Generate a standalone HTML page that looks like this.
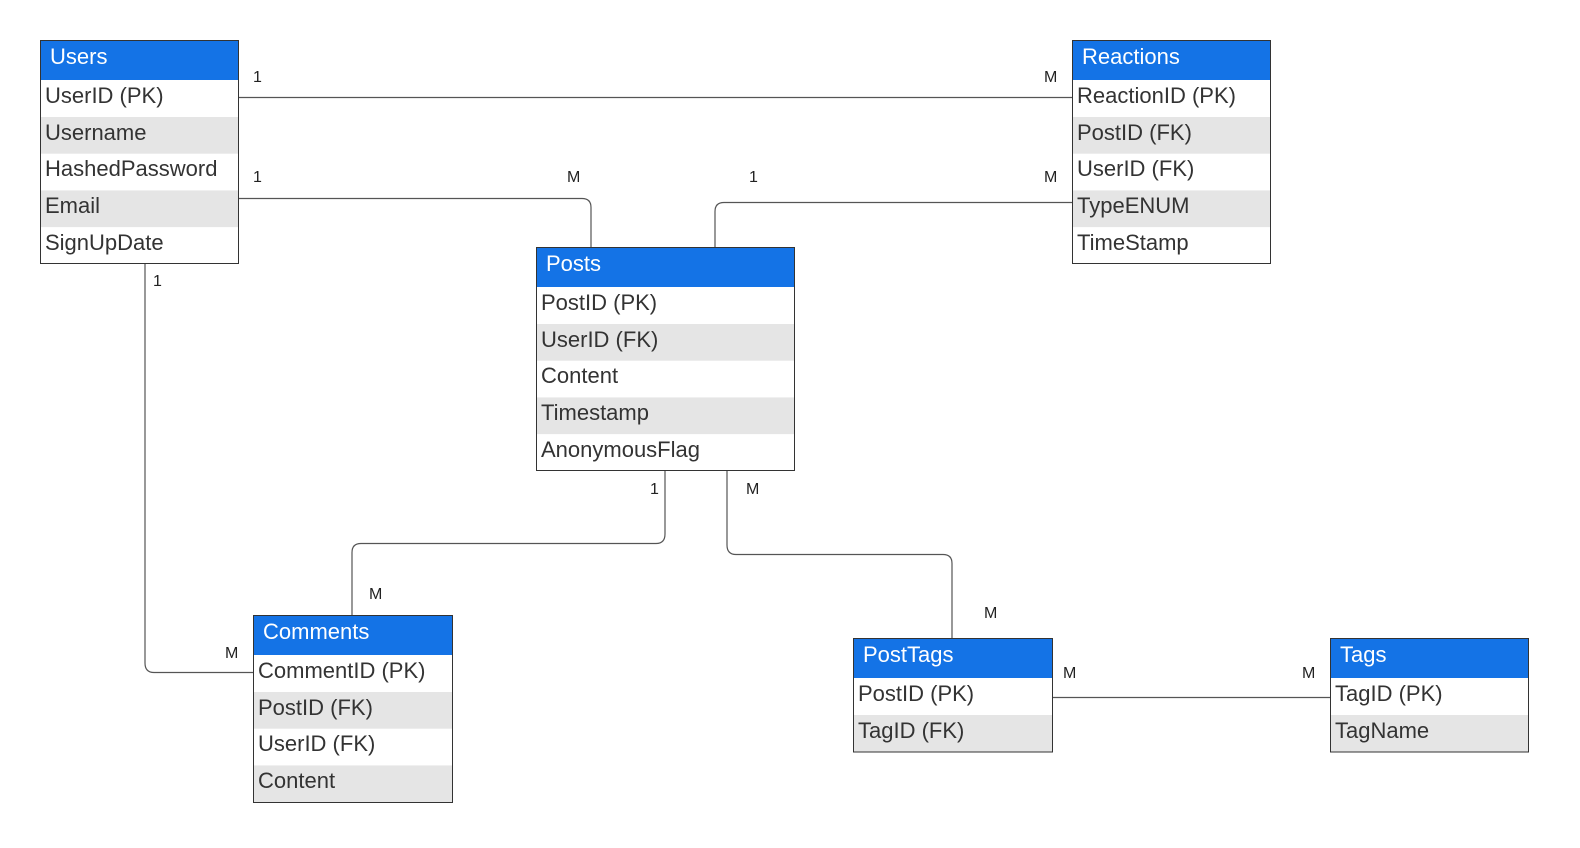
<!DOCTYPE html>
<html><head><meta charset="utf-8"><style>
html,body{margin:0;padding:0;background:#fff;overflow:hidden;width:1580px;height:848px;}
svg{display:block;font-family:"Liberation Sans",Arial,sans-serif;}
.h{fill:#fff;font-size:22px}
.r{fill:#333;font-size:22px}
.l{fill:#222;font-size:16px}
.c{fill:none;stroke:#555;stroke-width:1.2}
</style></head><body>
<svg width="1580" height="848" viewBox="0 0 1580 848">
<path class="c" d="M238 97.5H1072"/>
<path class="c" d="M238 198.5H582Q591 198.5 591 207.5V247"/>
<path class="c" d="M1072 202.5H724Q715 202.5 715 211.5V247"/>
<path class="c" d="M145 263V663Q145 672.5 154 672.5H253"/>
<path class="c" d="M665 471V534Q665 543.5 656 543.5H361Q352 543.5 352 552.5V615"/>
<path class="c" d="M727 471V545Q727 554.5 736 554.5H943Q952 554.5 952 563.5V638"/>
<path class="c" d="M1052 697.5H1330"/>
<g class="l">
<text x="253" y="82">1</text><text x="1044" y="82">M</text>
<text x="253" y="182">1</text><text x="567" y="182">M</text>
<text x="749" y="182">1</text><text x="1044" y="182">M</text>
<text x="153" y="286">1</text><text x="225" y="658">M</text>
<text x="650" y="494">1</text><text x="369" y="599">M</text>
<text x="746" y="494">M</text><text x="984" y="618">M</text>
<text x="1063" y="678">M</text><text x="1302" y="678">M</text>
</g>
<g transform="translate(40,40)">
<rect width="198" height="40" fill="#1473e6"/>
<rect y="77" width="198" height="36.7" fill="#e5e5e5"/><rect y="150.4" width="198" height="36.7" fill="#e5e5e5"/>
<rect x="0.5" y="0.5" width="198" height="223" fill="none" stroke="#333"/>
<text class="h" x="10" y="24">Users</text>
<text class="r" x="5" y="63">UserID (PK)</text><text class="r" x="5" y="100">Username</text>
<text class="r" x="5" y="136">HashedPassword</text><text class="r" x="5" y="173">Email</text>
<text class="r" x="5" y="210">SignUpDate</text>
</g>
<g transform="translate(1072,40)">
<rect width="198" height="40" fill="#1473e6"/>
<rect y="77" width="198" height="36.7" fill="#e5e5e5"/><rect y="150.4" width="198" height="36.7" fill="#e5e5e5"/>
<rect x="0.5" y="0.5" width="198" height="223" fill="none" stroke="#333"/>
<text class="h" x="10" y="24">Reactions</text>
<text class="r" x="5" y="63">ReactionID (PK)</text><text class="r" x="5" y="100">PostID (FK)</text>
<text class="r" x="5" y="136">UserID (FK)</text><text class="r" x="5" y="173">TypeENUM</text>
<text class="r" x="5" y="210">TimeStamp</text>
</g>
<g transform="translate(536,247)">
<rect width="258" height="40" fill="#1473e6"/>
<rect y="77" width="258" height="36.7" fill="#e5e5e5"/><rect y="150.4" width="258" height="36.7" fill="#e5e5e5"/>
<rect x="0.5" y="0.5" width="258" height="223" fill="none" stroke="#333"/>
<text class="h" x="10" y="24">Posts</text>
<text class="r" x="5" y="63">PostID (PK)</text><text class="r" x="5" y="100">UserID (FK)</text>
<text class="r" x="5" y="136">Content</text><text class="r" x="5" y="173">Timestamp</text>
<text class="r" x="5" y="210">AnonymousFlag</text>
</g>
<g transform="translate(253,615)">
<rect width="199" height="40" fill="#1473e6"/>
<rect y="77" width="199" height="36.7" fill="#e5e5e5"/><rect y="150.4" width="199" height="36.7" fill="#e5e5e5"/>
<rect x="0.5" y="0.5" width="199" height="187" fill="none" stroke="#333"/>
<text class="h" x="10" y="24">Comments</text>
<text class="r" x="5" y="63">CommentID (PK)</text><text class="r" x="5" y="100">PostID (FK)</text>
<text class="r" x="5" y="136">UserID (FK)</text><text class="r" x="5" y="173">Content</text>
</g>
<g transform="translate(853,638)">
<rect width="199" height="40" fill="#1473e6"/>
<rect y="77" width="199" height="36.7" fill="#e5e5e5"/>
<rect x="0.5" y="0.5" width="199" height="113.5" fill="none" stroke="#333"/>
<text class="h" x="10" y="24">PostTags</text>
<text class="r" x="5" y="63">PostID (PK)</text><text class="r" x="5" y="100">TagID (FK)</text>
</g>
<g transform="translate(1330,638)">
<rect width="198" height="40" fill="#1473e6"/>
<rect y="77" width="198" height="36.7" fill="#e5e5e5"/>
<rect x="0.5" y="0.5" width="198" height="113.5" fill="none" stroke="#333"/>
<text class="h" x="10" y="24">Tags</text>
<text class="r" x="5" y="63">TagID (PK)</text><text class="r" x="5" y="100">TagName</text>
</g>
</svg>
</body></html>
